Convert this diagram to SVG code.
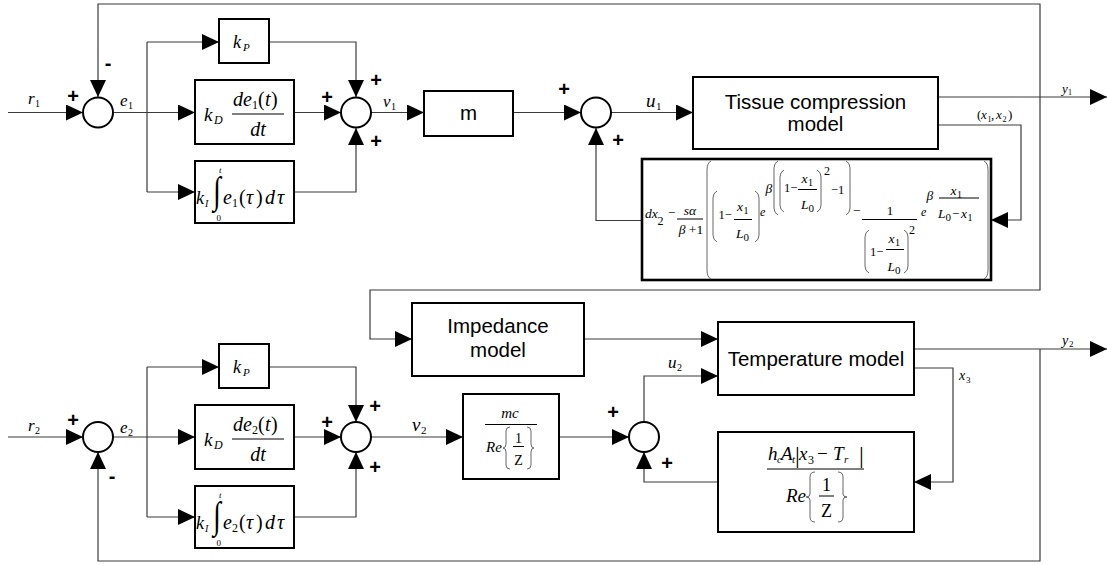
<svg xmlns="http://www.w3.org/2000/svg" width="1107" height="565" viewBox="0 0 1107 565">
<defs>
<marker id="ah" markerWidth="17" markerHeight="16" refX="17" refY="8" orient="auto" markerUnits="userSpaceOnUse"><path d="M0,0 L17,8 L0,16 z" fill="#000"/></marker>
<style>
.c{fill:none;stroke:#3a3a3a;stroke-width:1.2}
.a{marker-end:url(#ah)}
.b{fill:#fff;stroke:#000;stroke-width:2}
.bt{fill:#fff;stroke:#000;stroke-width:2.6}
.s{fill:#fff;stroke:#000;stroke-width:2}
.ln{fill:none;stroke:#000;stroke-width:1}
.br{fill:none;stroke:#555;stroke-width:0.9}
.t{font-family:"Liberation Sans",Arial,sans-serif;font-size:20.5px;fill:#000;text-anchor:middle}
.pm{font-family:"Liberation Sans",Arial,sans-serif;font-size:20px;font-weight:bold;fill:#000;text-anchor:middle}
.i{font-family:"Liberation Serif","Times New Roman",serif;font-style:italic;fill:#000}
.u{font-family:"Liberation Serif","Times New Roman",serif;fill:#000}
.m{text-anchor:middle}
</style>
</defs>
<rect width="1107" height="565" fill="#fff"/>

<g id="connectors">
<path class="c a" d="M8,112.5 H83"/>
<path class="c a" d="M1040,97 V4 H98 V97"/>
<path class="c a" d="M1040,97 V290 H370 V339 H412"/>
<path class="c a" d="M113,112.5 H195"/>
<path class="c" d="M147,42 V192"/>
<path class="c a" d="M147,42 H219"/>
<path class="c a" d="M147,192 H195"/>
<path class="c a" d="M269,42 H356 V97"/>
<path class="c a" d="M294,112.5 H341"/>
<path class="c a" d="M294,192 H356 V128"/>
<path class="c a" d="M371,112.5 H424"/>
<path class="c a" d="M513,112.5 H581"/>
<path class="c a" d="M611,112.5 H693"/>
<path class="c a" d="M938,97 H1107"/>
<path class="c a" d="M938,125 H1021 V220 H991"/>
<path class="c a" d="M642,220.5 H596 V128"/>

<path class="c a" d="M8,437 H83"/>
<path class="c a" d="M113,437 H195"/>
<path class="c" d="M147,367 V517"/>
<path class="c a" d="M147,367 H219"/>
<path class="c a" d="M147,517 H195"/>
<path class="c a" d="M269,367 H356 V422"/>
<path class="c a" d="M294,437 H341"/>
<path class="c a" d="M294,517 H356 V452"/>
<path class="c a" d="M371,437 H463"/>
<path class="c a" d="M559,437 H629"/>
<path class="c a" d="M644,422 V376 H718"/>
<path class="c a" d="M584,339 H718"/>
<path class="c a" d="M914,349 H1107"/>
<path class="c a" d="M914,368 H953 V482 H914"/>
<path class="c a" d="M718,482 H644 V452"/>
<path class="c a" d="M1040,349 V561 H98 V452"/>

<text class="i" x="28" y="104" font-size="17">r</text><text class="u" x="35" y="107" font-size="10">1</text>
<text class="i" x="120" y="106" font-size="17">e</text><text class="u" x="128" y="109" font-size="10">1</text>
<text class="i" x="383" y="107" font-size="17">v</text><text class="u" x="391" y="110" font-size="10">1</text>
<text class="i" x="646" y="107" font-size="19">u</text><text class="u" x="656" y="110" font-size="11">1</text>
<text class="i" x="1062" y="93" font-size="13">y</text><text class="u" x="1068" y="95" font-size="8">1</text>
<text class="u" x="977" y="119" font-size="13">(</text><text class="i" x="981" y="119" font-size="13">x</text><text class="u" x="987.5" y="122" font-size="8">1</text><text class="u" x="991" y="119" font-size="13">,</text><text class="i" x="996" y="119" font-size="13">x</text><text class="u" x="1002.5" y="122" font-size="8">2</text><text class="u" x="1008" y="119" font-size="13">)</text>

<text class="i" x="28" y="431" font-size="17">r</text><text class="u" x="35" y="434" font-size="10">2</text>
<text class="i" x="120" y="433" font-size="17">e</text><text class="u" x="128" y="436" font-size="10">2</text>
<text class="i" x="412" y="431" font-size="19">v</text><text class="u" x="421" y="434" font-size="11">2</text>
<text class="i" x="668" y="368" font-size="17">u</text><text class="u" x="677" y="371" font-size="10">2</text>
<text class="i" x="1062" y="345" font-size="14">y</text><text class="u" x="1069" y="347" font-size="9">2</text>
<text class="i" x="959" y="380" font-size="14">x</text><text class="u" x="966" y="383" font-size="9">3</text>

<text class="pm" x="73" y="103">+</text><text class="pm" x="108" y="70">-</text>
<text class="pm" x="327" y="104">+</text><text class="pm" x="376" y="87">+</text><text class="pm" x="376" y="148">+</text>
<text class="pm" x="564" y="96">+</text><text class="pm" x="618" y="147">+</text>
<text class="pm" x="73" y="427">+</text><text class="pm" x="112" y="483">-</text>
<text class="pm" x="327" y="429">+</text><text class="pm" x="375" y="413">+</text><text class="pm" x="375" y="474">+</text>
<text class="pm" x="613" y="419">+</text><text class="pm" x="667" y="470">+</text>
</g>

<g id="sum1"><circle class="s" cx="98" cy="112.5" r="15"/></g>
<g id="sum2"><circle class="s" cx="356" cy="112.5" r="15"/></g>
<g id="sum3"><circle class="s" cx="596" cy="112.5" r="15"/></g>
<g id="sum5"><circle class="s" cx="98" cy="437" r="15"/></g>
<g id="sum6"><circle class="s" cx="356" cy="437" r="15"/></g>
<g id="sum4"><circle class="s" cx="644" cy="437" r="15"/></g>

<g id="kp1"><rect class="b" x="219" y="19" width="50" height="44"/>
<text class="i" x="233" y="48" font-size="18">k</text><text class="i" x="243" y="51" font-size="11">P</text></g>
<g id="kd1"><rect class="b" x="195" y="80" width="99" height="64"/>
<text class="i" x="204" y="121" font-size="19">k</text><text class="i" x="214" y="124" font-size="12">D</text>
<text class="i" x="233" y="106" font-size="20">de</text><text class="u" x="252" y="109" font-size="12">1</text><text class="u" x="258" y="106" font-size="20">(</text><text class="i" x="265" y="106" font-size="20">t</text><text class="u" x="271" y="106" font-size="20">)</text>
<path class="ln" d="M232,114 H284"/>
<text class="i m" x="258" y="136" font-size="20">dt</text></g>
<g id="ki1"><rect class="b" x="195" y="161" width="99" height="62"/>
<text class="i" x="196" y="204" font-size="18">k</text><text class="i" x="205" y="207" font-size="10">I</text>
<text class="u" transform="translate(213,203) scale(1,1.35)" font-size="28">∫</text>
<text class="i" x="219" y="173" font-size="9">t</text><text class="u" x="216.5" y="221" font-size="9">0</text>
<text class="i" x="223" y="204" font-size="20">e</text><text class="u" x="232" y="207" font-size="12">1</text><text class="u" x="239" y="204" font-size="20">(</text><text class="i" x="246" y="204" font-size="20">τ</text><text class="u" x="256" y="204" font-size="20">)</text><text class="i" x="265" y="204" font-size="20">d</text><text class="i" x="277" y="204" font-size="20">τ</text></g>
<g id="m1"><rect class="b" x="424" y="91" width="89" height="45"/><text class="t" x="468.5" y="120">m</text></g>
<g id="tissue"><rect class="b" x="693" y="77" width="245" height="72"/>
<text class="t" x="815.5" y="109">Tissue compression</text><text class="t" x="815.5" y="131">model</text></g>
<g id="formula1"><rect class="bt" x="642" y="159" width="349" height="121"/>
<text class="i" x="645" y="218" font-size="13.5">dx</text><text class="u" x="657.5" y="225" font-size="12">2</text>
<text class="u" x="668" y="217" font-size="13">−</text>
<text class="i m" x="690" y="215" font-size="13.5">sα</text><path class="ln" d="M677,219 H703"/>
<text class="i m" x="691" y="234" font-size="13.5">β<tspan font-style="normal"> +1</tspan></text>
<path class="br" d="M711,161 Q707,163 707,170 V270 Q707,277 711,279"/>
<path class="br" d="M984,161 Q988,163 988,170 V270 Q988,277 984,279"/>
<path class="br" d="M717,191 Q713,193 713,198 V235 Q713,240 717,242"/>
<path class="br" d="M755,191 Q759,193 759,198 V235 Q759,240 755,242"/>
<text class="u" x="718.5" y="219" font-size="12.5">1−</text>
<text class="i" x="737" y="211" font-size="13.5">x</text><text class="u" x="743.5" y="213.5" font-size="10">1</text>
<path class="ln" d="M734,219.5 H752"/>
<text class="i" x="736" y="238" font-size="13.5">L</text><text class="u" x="743.5" y="240.5" font-size="11">0</text>
<text class="i" x="760" y="216" font-size="12">e</text>
<text class="i" x="765.5" y="193" font-size="13.5">β</text>
<path class="br" d="M778,161 Q774,163 774,168 V208 Q774,213 778,215"/>
<path class="br" d="M846,161 Q850,163 850,168 V208 Q850,213 846,215"/>
<path class="br" d="M784,170 Q780,172 780,177 V205 Q780,210 784,212"/>
<path class="br" d="M817,170 Q821,172 821,177 V205 Q821,210 817,212"/>
<text class="u" x="784" y="192" font-size="12.5">1−</text>
<text class="i" x="801.5" y="183" font-size="13.5">x</text><text class="u" x="808" y="185.5" font-size="10">1</text>
<path class="ln" d="M798,189.5 H817"/>
<text class="i" x="801" y="209" font-size="13.5">L</text><text class="u" x="808.5" y="211.5" font-size="11">0</text>
<text class="u" x="824" y="175" font-size="12">2</text>
<text class="u" x="831" y="194" font-size="12.5">−1</text>
<text class="u" x="853" y="215" font-size="13">−</text>
<text class="u m" x="890" y="215" font-size="13">1</text>
<path class="ln" d="M862,219.5 H917"/>
<path class="br" d="M869,230 Q865,232 865,237 V266 Q865,271 869,273"/>
<path class="br" d="M904,230 Q908,232 908,237 V266 Q908,271 904,273"/>
<text class="u" x="870" y="256" font-size="12.5">1−</text>
<text class="i" x="888.5" y="243" font-size="13.5">x</text><text class="u" x="895" y="245.5" font-size="10">1</text>
<path class="ln" d="M886,249.5 H904"/>
<text class="i" x="887.5" y="271" font-size="13.5">L</text><text class="u" x="895" y="273.5" font-size="11">0</text>
<text class="u" x="909" y="234" font-size="12">2</text>
<text class="i" x="921" y="216" font-size="12">e</text>
<text class="i" x="926.5" y="200" font-size="13.5">β</text>
<text class="i" x="950.5" y="195" font-size="13.5">x</text><text class="u" x="957" y="197.5" font-size="10">1</text>
<path class="ln" d="M939,198 H979"/>
<text class="i" x="938" y="218" font-size="13.5">L</text><text class="u" x="945.5" y="220.5" font-size="11">0</text><text class="u" x="952" y="218" font-size="13">−</text><text class="i" x="961" y="218" font-size="13.5">x</text><text class="u" x="967.5" y="220.5" font-size="10">1</text>
</g>

<g id="kp2"><rect class="b" x="219" y="344" width="50" height="44"/>
<text class="i" x="233" y="373" font-size="18">k</text><text class="i" x="243" y="376" font-size="11">P</text></g>
<g id="kd2"><rect class="b" x="195" y="405" width="99" height="64"/>
<text class="i" x="204" y="446" font-size="19">k</text><text class="i" x="214" y="449" font-size="12">D</text>
<text class="i" x="233" y="431" font-size="20">de</text><text class="u" x="252" y="434" font-size="12">2</text><text class="u" x="258" y="431" font-size="20">(</text><text class="i" x="265" y="431" font-size="20">t</text><text class="u" x="271" y="431" font-size="20">)</text>
<path class="ln" d="M232,439 H284"/>
<text class="i m" x="258" y="461" font-size="20">dt</text></g>
<g id="ki2"><rect class="b" x="195" y="486" width="99" height="62"/>
<text class="i" x="196" y="529" font-size="18">k</text><text class="i" x="205" y="532" font-size="10">I</text>
<text class="u" transform="translate(213,528) scale(1,1.35)" font-size="28">∫</text>
<text class="i" x="219" y="498" font-size="9">t</text><text class="u" x="216.5" y="546" font-size="9">0</text>
<text class="i" x="223" y="529" font-size="20">e</text><text class="u" x="232" y="532" font-size="12">2</text><text class="u" x="239" y="529" font-size="20">(</text><text class="i" x="246" y="529" font-size="20">τ</text><text class="u" x="256" y="529" font-size="20">)</text><text class="i" x="265" y="529" font-size="20">d</text><text class="i" x="277" y="529" font-size="20">τ</text></g>
<g id="mc"><rect class="b" x="463" y="394" width="96" height="85"/>
<text class="i m" x="510" y="418" font-size="15">mc</text><path class="ln" d="M485,424.5 H537"/>
<text class="i" x="486" y="452" font-size="15">Re</text>
<path class="br" d="M510,427 Q506,427 506,431 V444 Q506,448 503,448 Q506,448 506,452 V465 Q506,469 510,469"/>
<path class="br" d="M527,427 Q531,427 531,431 V444 Q531,448 534,448 Q531,448 531,452 V465 Q531,469 527,469"/>
<text class="u m" x="518.5" y="443" font-size="14">1</text><path class="ln" d="M513,446.5 H524"/>
<text class="u m" x="518.5" y="465" font-size="14">Z</text></g>
<g id="impedance"><rect class="b" x="412" y="303" width="172" height="73"/>
<text class="t" x="498" y="333">Impedance</text><text class="t" x="498" y="357">model</text></g>
<g id="temperature"><rect class="b" x="718" y="322" width="196" height="73"/>
<text class="t" x="816" y="366">Temperature model</text></g>
<g id="formula2"><rect class="b" x="718" y="432" width="196" height="100"/>
<text class="i" x="768" y="460" font-size="19">h</text><text class="i" x="777" y="463" font-size="11">c</text>
<text class="i" x="781" y="460" font-size="19">A</text><text class="i" x="792" y="463" font-size="11">t</text>
<text class="u" x="795" y="463" font-size="24">|</text>
<text class="i" x="799" y="460" font-size="19">x</text><text class="u" x="808" y="464" font-size="12">3</text>
<text class="u" x="817" y="460" font-size="19">−</text>
<text class="i" x="833" y="460" font-size="19">T</text><text class="i" x="844" y="463" font-size="11">r</text>
<text class="u" x="859" y="463" font-size="24">|</text>
<path class="ln" d="M767,469 H864"/>
<text class="i" x="786" y="502" font-size="19">Re</text>
<path class="br" d="M815,472 Q810,472 810,477 V494 Q810,497 806,497 Q810,497 810,500 V517 Q810,522 815,522"/>
<path class="br" d="M838,472 Q843,472 843,477 V494 Q843,497 847,497 Q843,497 843,500 V517 Q843,522 838,522"/>
<text class="u m" x="826.5" y="491" font-size="18">1</text><path class="ln" d="M819,496 H834"/>
<text class="u m" x="826.5" y="517" font-size="18">Z</text></g>
</svg>
